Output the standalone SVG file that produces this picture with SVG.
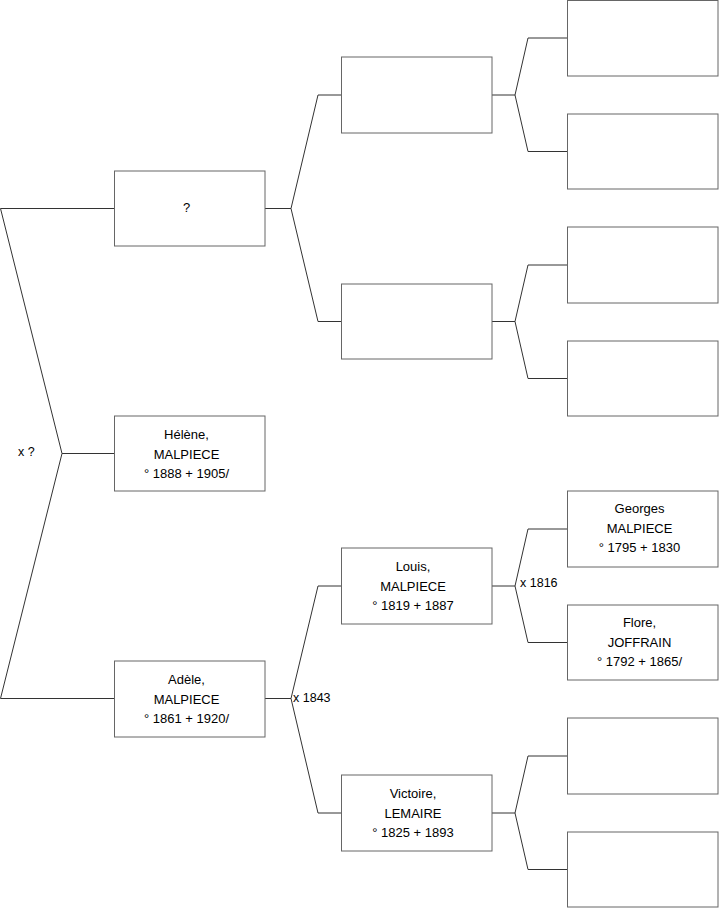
<svg xmlns="http://www.w3.org/2000/svg" width="719" height="908" viewBox="0 0 719 908">
<style>
.box{fill:#fff;stroke:#666;stroke-width:1}
.t{font-family:"Liberation Sans",Arial,sans-serif;font-size:13px;fill:#000;text-anchor:middle}
.lbl{font-family:"Liberation Sans",Arial,sans-serif;font-size:12.5px;fill:#000}
.c{fill:none;stroke:#333;stroke-width:1}
</style>
<rect width="719" height="908" fill="#fff"/>
<g id="connectors">
<polyline class="c" points="114,208.5 0.5,208.5 62,453.5 0.5,698.5 114,698.5"/>
<line class="c" x1="62" y1="453.5" x2="114" y2="453.5"/>
<polyline class="c" points="341,95 318,95 291,208.5 318,321.5 341,321.5"/>
<line class="c" x1="265" y1="208.5" x2="291" y2="208.5"/>
<polyline class="c" points="341,586 318,586 291,698.5 318,813 341,813"/>
<line class="c" x1="265" y1="698.5" x2="291" y2="698.5"/>
<polyline class="c" points="567,38 528,38 515,95 528,151.5 567,151.5"/>
<line class="c" x1="492" y1="95" x2="515" y2="95"/>
<polyline class="c" points="567,265 528,265 515,321.5 528,378.5 567,378.5"/>
<line class="c" x1="492" y1="321.5" x2="515" y2="321.5"/>
<polyline class="c" points="567,529 528,529 515,586 528,642.5 567,642.5"/>
<line class="c" x1="492" y1="586" x2="515" y2="586"/>
<polyline class="c" points="567,756 528,756 515,813 528,869.5 567,869.5"/>
<line class="c" x1="492" y1="813" x2="515" y2="813"/>
<text class="lbl" x="18" y="456">x ?</text>
<text class="lbl" x="293" y="702">x 1843</text>
<text class="lbl" x="520" y="587">x 1816</text>
</g>
<g id="n_unknown"><rect class="box" x="114.5" y="171" width="150.5" height="75"/><text class="t" x="186.5" y="212">?</text></g>
<g id="n_helene"><rect class="box" x="114.5" y="416" width="150.5" height="75"/>
<text class="t" x="186.5" y="439">Hélène,</text><text class="t" x="186.5" y="458.5">MALPIECE</text><text class="t" x="186.5" y="478">° 1888 + 1905/</text></g>
<g id="n_adele"><rect class="box" x="114.5" y="661" width="150.5" height="76"/>
<text class="t" x="186.5" y="684">Adèle,</text><text class="t" x="186.5" y="703.5">MALPIECE</text><text class="t" x="186.5" y="723">° 1861 + 1920/</text></g>
<g id="n_m1"><rect class="box" x="341.5" y="57" width="150.5" height="76"/></g>
<g id="n_m2"><rect class="box" x="341.5" y="284" width="150.5" height="75"/></g>
<g id="n_louis"><rect class="box" x="341.5" y="548" width="150.5" height="76"/>
<text class="t" x="413" y="571">Louis,</text><text class="t" x="413" y="590.5">MALPIECE</text><text class="t" x="413" y="610">° 1819 + 1887</text></g>
<g id="n_victoire"><rect class="box" x="341.5" y="775" width="150.5" height="76"/>
<text class="t" x="413" y="798">Victoire,</text><text class="t" x="413" y="817.5">LEMAIRE</text><text class="t" x="413" y="837">° 1825 + 1893</text></g>
<g id="n_r1"><rect class="box" x="567.5" y="0.5" width="150.5" height="75.5"/></g>
<g id="n_r2"><rect class="box" x="567.5" y="114" width="150.5" height="75"/></g>
<g id="n_r3"><rect class="box" x="567.5" y="227" width="150.5" height="76"/></g>
<g id="n_r4"><rect class="box" x="567.5" y="341" width="150.5" height="75"/></g>
<g id="n_georges"><rect class="box" x="567.5" y="491" width="150.5" height="76"/>
<text class="t" x="639.5" y="513">Georges</text><text class="t" x="639.5" y="532.5">MALPIECE</text><text class="t" x="639.5" y="552">° 1795 + 1830</text></g>
<g id="n_flore"><rect class="box" x="567.5" y="605" width="150.5" height="75"/>
<text class="t" x="639.5" y="627">Flore,</text><text class="t" x="639.5" y="646.5">JOFFRAIN</text><text class="t" x="639.5" y="666">° 1792 + 1865/</text></g>
<g id="n_r7"><rect class="box" x="567.5" y="718" width="150.5" height="76"/></g>
<g id="n_r8"><rect class="box" x="567.5" y="832" width="150.5" height="75"/></g>
</svg>
